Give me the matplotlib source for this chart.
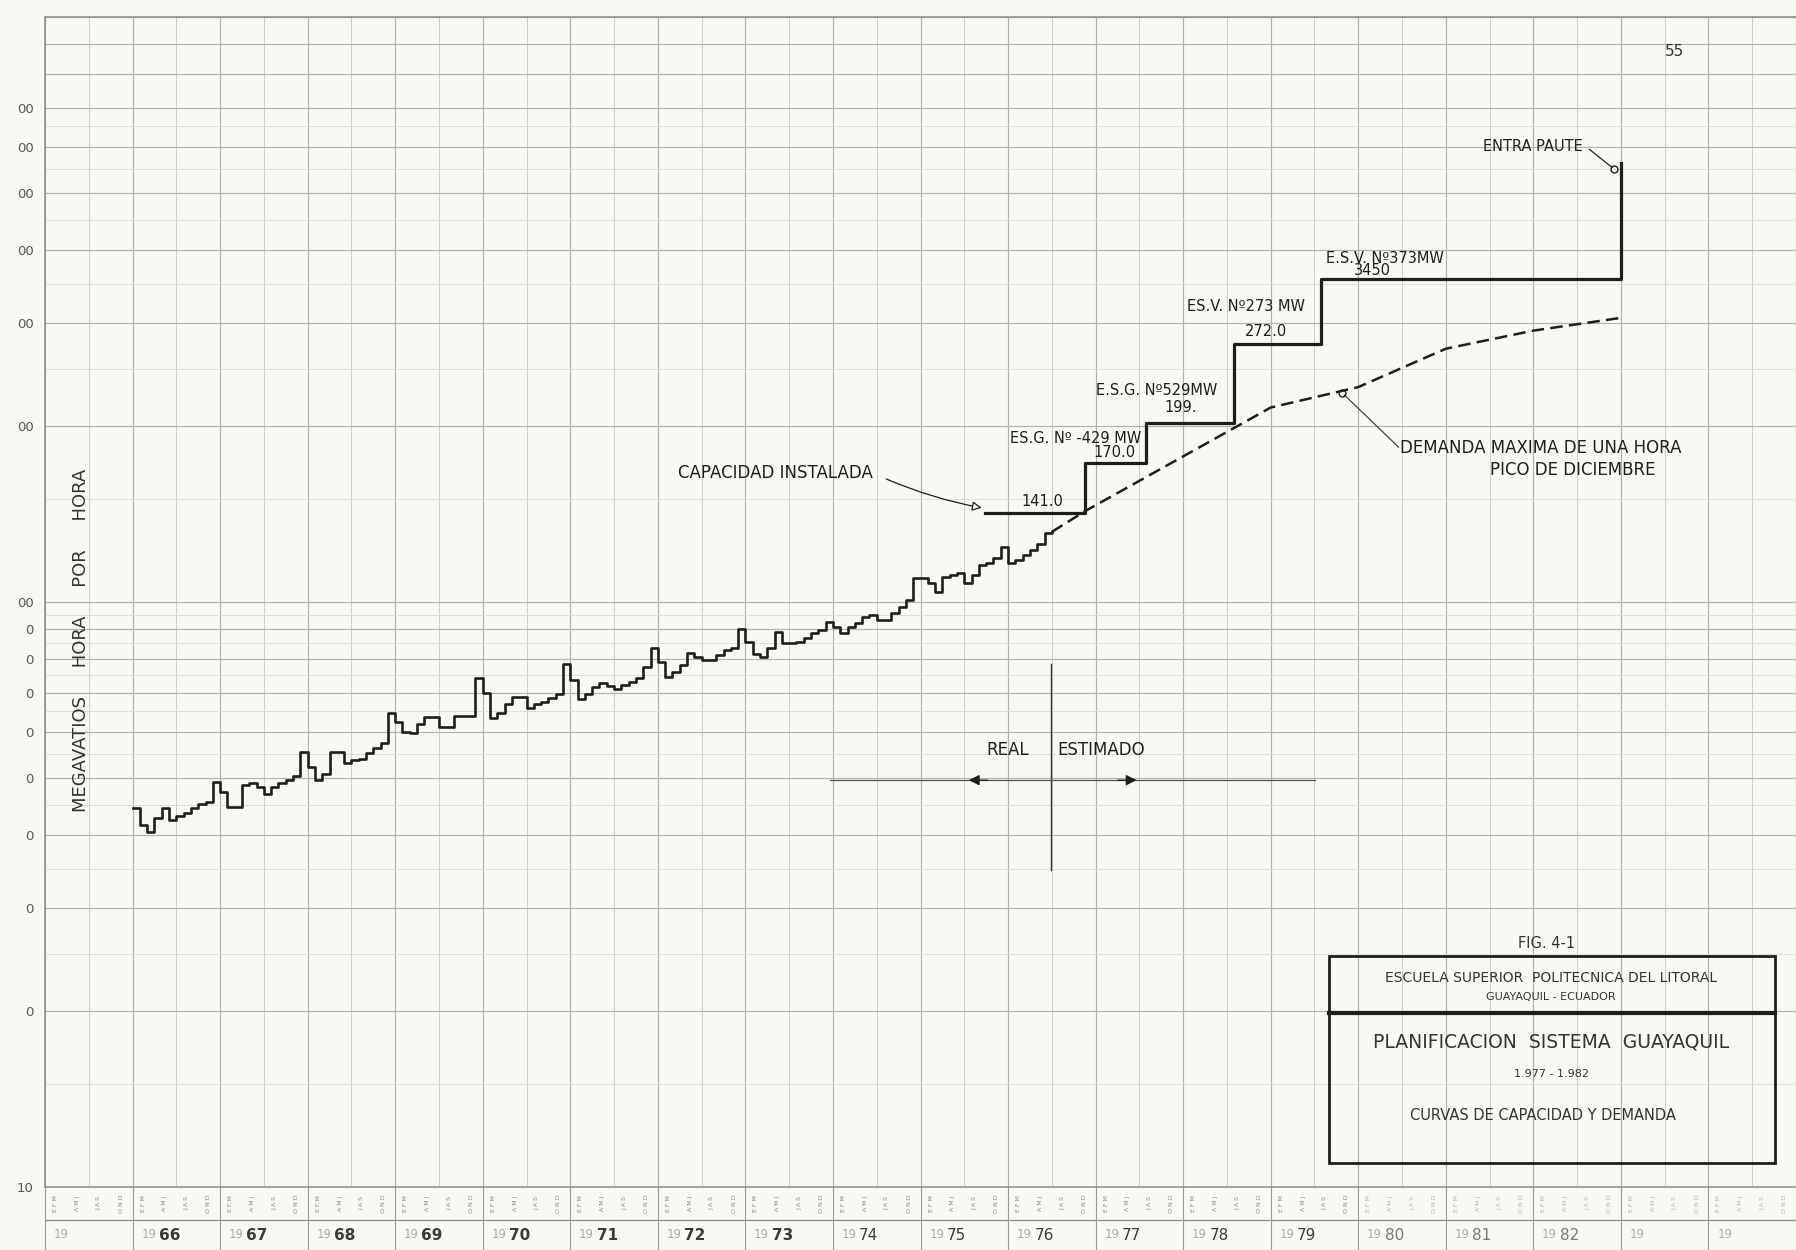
import numpy as np
import matplotlib.pyplot as plt
from matplotlib.patches import Rectangle

# demanda maxima mensual (MW), enero 1966 -> julio 1976
d1966 = [44.4, 41.6, 40.4, 42.7, 44.4, 42.4, 43.0, 43.5, 44.4, 45.2, 45.6, 49.3]
d1967 = [47.4, 44.6, 44.6, 48.7, 49.0, 48.3, 47.0, 48.3, 49.0, 49.6, 50.4, 55.5]
d1968 = [52.3, 49.6, 50.9, 55.5, 55.5, 53.0, 53.6, 54.0, 55.1, 56.2, 57.5, 64.7]
d1969 = [62.4, 60.0, 59.6, 61.9, 63.7, 63.7, 61.1, 61.1, 63.9, 63.9, 63.9, 74.0]
d1970 = [69.8, 63.3, 64.5, 66.9, 68.7, 68.7, 65.8, 66.9, 67.5, 68.4, 69.6, 78.3]
d1971 = [73.6, 68.2, 69.6, 71.5, 72.6, 71.8, 70.9, 72.1, 73.1, 74.0, 77.5, 83.6]
d1972 = [79.1, 74.5, 76.0, 78.0, 81.7, 80.4, 79.6, 79.6, 81.2, 82.8, 83.4, 89.8]
d1973 = [85.5, 81.5, 80.6, 83.5, 89.0, 85.2, 85.2, 85.5, 86.7, 88.6, 89.6, 92.5]
d1974 = [90.7, 88.4, 90.7, 91.9, 94.4, 95.0, 93.1, 93.1, 95.6, 98.2, 100.8, 109.8]
d1975 = [109.8, 107.6, 104.0, 110.4, 111.2, 111.9, 107.6, 111.2, 115.6, 116.4, 118.8, 124.3]
d1976 = [116.4, 118.0, 120.3, 122.7, 125.5, 131.0, 131.8]
fin_real = 1976.5

# demanda estimada (linea de trazos)
est_t = [1976.5, 1976.88, 1979.0, 1980.0, 1981.0, 1982.0, 1983.0]
est_v = [131.8, 143.0, 215.0, 233.0, 271.0, 291.0, 306.0]

# capacidad instalada (escalones)
cap_t = [1975.74, 1976.88, 1977.57, 1978.58, 1979.57, 1983.0]
cap_v = [142, 173, 202, 276, 357, 563]

years = np.arange(1965, 1985)
ytick_v = [10, 20, 30, 40, 50, 60, 70, 80, 90, 100, 200, 300, 400, 500, 600, 700]
ytick_txt = ["10", "0", "0", "0", "0", "0", "0", "0", "0", "00", "00", "00", "00", "00", "00", "00"]
meses = ["E F M", "A M J", "J A S", "O N D"]

ink = "#1e1e1e"
W, H = 1796, 1250

fig = plt.figure(figsize=(W / 100, H / 100), dpi=100, facecolor="#f8f8f5")
ax = fig.add_axes([45 / W, 63 / H, 1751 / W, 1170 / H])
ax.set_facecolor("#f8f8f5")
ax.set_xlim(1965, 1985)
ax.set_yscale("log")
ax.set_ylim(10, 1000)

# papel semilogaritmico
for x in np.arange(1965, 1985.01, 0.5):
    if x % 1 == 0:
        ax.axvline(x, color="#b0b0b0", lw=0.85, zorder=0)
    else:
        ax.axvline(x, color="#cdcdcd", lw=0.7, zorder=0)
mayores = list(range(10, 100, 10)) + list(range(100, 1001, 100))
menores = [15, 25, 35, 45, 55, 65, 75, 85, 95, 150, 250, 350, 450, 550, 650]
for v in mayores:
    ax.axhline(v, color="#b2b2b2", lw=0.85, zorder=0)
for v in menores:
    ax.axhline(v, color="#dadada", lw=0.6, zorder=0)

ax.set_xticks([])
ax.yaxis.set_minor_locator(plt.NullLocator())
ax.set_yticks(ytick_v)
ax.set_yticklabels(ytick_txt, color="#555555", fontsize=9.5)
ax.tick_params(axis="y", length=0, pad=8)
ax.spines["right"].set_visible(False)
for s in ["left", "top", "bottom"]:
    ax.spines[s].set_color("#8a8a8a")
    ax.spines[s].set_linewidth(1.1)

# curva real mensual
real = np.concatenate([d1966, d1967, d1968, d1969, d1970, d1971, d1972,
                       d1973, d1974, d1975, d1976])
t_real = 1966 + np.arange(len(real)) / 12
ax.step(np.append(t_real, fin_real), np.append(real, real[-1]), where="post",
        color=ink, lw=1.9, zorder=3)

# demanda estimada
ax.plot(est_t, est_v, color=ink, lw=1.8, dashes=(5, 2.5), zorder=3)

# capacidad instalada
ax.step(cap_t, cap_v, where="post", color=ink, lw=2.3, zorder=4)

fs = 10.5
ax.text(1976.39, 148.3, "141.0", fontsize=fs, ha="center", va="center", color=ink)
ax.text(1976.77, 190.6, "ES.G. Nº -429 MW", fontsize=fs, ha="center", va="center", color=ink)
ax.text(1977.22, 179.8, "170.0", fontsize=fs, ha="center", va="center", color=ink)
ax.text(1977.70, 230, "E.S.G. Nº529MW", fontsize=fs, ha="center", va="center", color=ink)
ax.text(1977.97, 215, "199.", fontsize=fs, ha="center", va="center", color=ink)
ax.text(1978.72, 320, "ES.V. Nº273 MW", fontsize=fs, ha="center", va="center", color=ink)
ax.text(1978.95, 290, "272.0", fontsize=fs, ha="center", va="center", color=ink)
ax.text(1980.31, 387, "E.S.V. Nº373MW", fontsize=fs, ha="center", va="center", color=ink)
ax.text(1980.16, 368, "3450", fontsize=fs, ha="center", va="center", color=ink)

ax.text(1982.0, 600, "ENTRA PAUTE", fontsize=fs, ha="center", va="center", color=ink)
ax.plot([1982.64, 1982.9], [594, 553], color=ink, lw=0.9)
ax.plot([1982.92], [550], "o", mfc="none", mec=ink, ms=5)

ax.text(1973.34, 166, "CAPACIDAD INSTALADA", fontsize=12, ha="center", va="center", color=ink)
ax.annotate("", xy=(1975.73, 144.6), xytext=(1974.58, 163),
            arrowprops=dict(arrowstyle="-|>", color=ink, lw=0.9, fc="white",
                            connectionstyle="arc3,rad=0.06", mutation_scale=14))

ax.text(1980.48, 183, "DEMANDA MAXIMA DE UNA HORA", fontsize=12, ha="left", va="center", color=ink)
ax.text(1982.45, 168, "PICO DE DICIEMBRE", fontsize=12, ha="center", va="center", color=ink)
ax.plot([1979.84, 1980.46], [226, 184], color="#444444", lw=0.9)
ax.plot([1979.82], [228], "o", mfc="none", mec=ink, ms=5)

# real / estimado
ax.plot([1976.49, 1976.49], [34.8, 78.4], color="#333333", lw=1.0)
ax.plot([1973.97, 1979.51], [49.6, 49.6], color="#555555", lw=0.9)
for a, b in [(1975.8, 1975.52), (1977.22, 1977.5)]:
    ax.annotate("", xy=(b, 49.6), xytext=(a, 49.6),
                arrowprops=dict(arrowstyle="-|>", color=ink, lw=0.9, mutation_scale=16))
ax.text(1976.0, 55.8, "REAL", fontsize=12, ha="center", va="center", color=ink)
ax.text(1977.06, 55.8, "ESTIMADO", fontsize=12, ha="center", va="center", color=ink)

# filas de meses y anos bajo el eje
tr = ax.get_xaxis_transform()
r1, r2 = -33 / 1170, -63 / 1170
ax.plot([1965, 1985], [r1, r1], transform=tr, clip_on=False, color="#888888", lw=0.9)
for y in years:
    ax.plot([y, y], [0, r2], transform=tr, clip_on=False, color="#999999", lw=0.8)
    col = "#8a8a8a" if y < 1980 else "#b5b5b5"
    for k, m in enumerate(meses):
        ax.text(y + 0.12 + 0.25 * k, r1 / 2, m, transform=tr, rotation=90, fontsize=4.5,
                color=col, ha="center", va="center")
    ax.text(y + 0.1, (r1 + r2) / 2, "19", transform=tr, fontsize=8.5, color="#aaaaaa",
            ha="left", va="center")
    if 1966 <= y <= 1982:
        ax.text(y + 0.3, (r1 + r2) / 2, str(y)[2:], transform=tr, fontsize=11,
                color="#3a3a3a" if y < 1980 else "#777777", ha="left", va="center",
                fontweight="bold" if y < 1974 else "normal")

fig.text(81 / W, 1 - 640 / H, "MEGAVATIOS     HORA     POR     HORA", rotation=90,
         fontsize=13, ha="center", va="center", color="#333333")
fig.text(1675 / W, 1 - 52 / H, "55", fontsize=11, ha="center", va="center", color="#333333")

# cuadro de titulo
fig.add_artist(Rectangle((1329 / W, 1 - 1163 / H), 446 / W, 207 / H, transform=fig.transFigure,
                         fill=False, ec=ink, lw=2.0))
fig.add_artist(plt.Line2D([1329 / W, 1775 / W], [1 - 1013 / H, 1 - 1013 / H],
                          transform=fig.transFigure, color=ink, lw=3.0))
cx = 1551 / W
fig.text(1547 / W, 1 - 943 / H, "FIG. 4-1", fontsize=10.5, ha="center", va="center", color="#333333")
fig.text(cx, 1 - 978 / H, "ESCUELA SUPERIOR  POLITECNICA DEL LITORAL", fontsize=10,
         ha="center", va="center", color="#333333")
fig.text(cx, 1 - 997 / H, "GUAYAQUIL - ECUADOR", fontsize=8, ha="center", va="center", color="#333333")
fig.text(cx, 1 - 1042 / H, "PLANIFICACION  SISTEMA  GUAYAQUIL", fontsize=13.5,
         ha="center", va="center", color="#333333")
fig.text(cx, 1 - 1074 / H, "1.977 - 1.982", fontsize=8, ha="center", va="center", color="#333333")
fig.text(1543 / W, 1 - 1115 / H, "CURVAS DE CAPACIDAD Y DEMANDA", fontsize=10.5,
         ha="center", va="center", color="#333333")

fig.savefig("out.png", dpi=100, facecolor=fig.get_facecolor())
